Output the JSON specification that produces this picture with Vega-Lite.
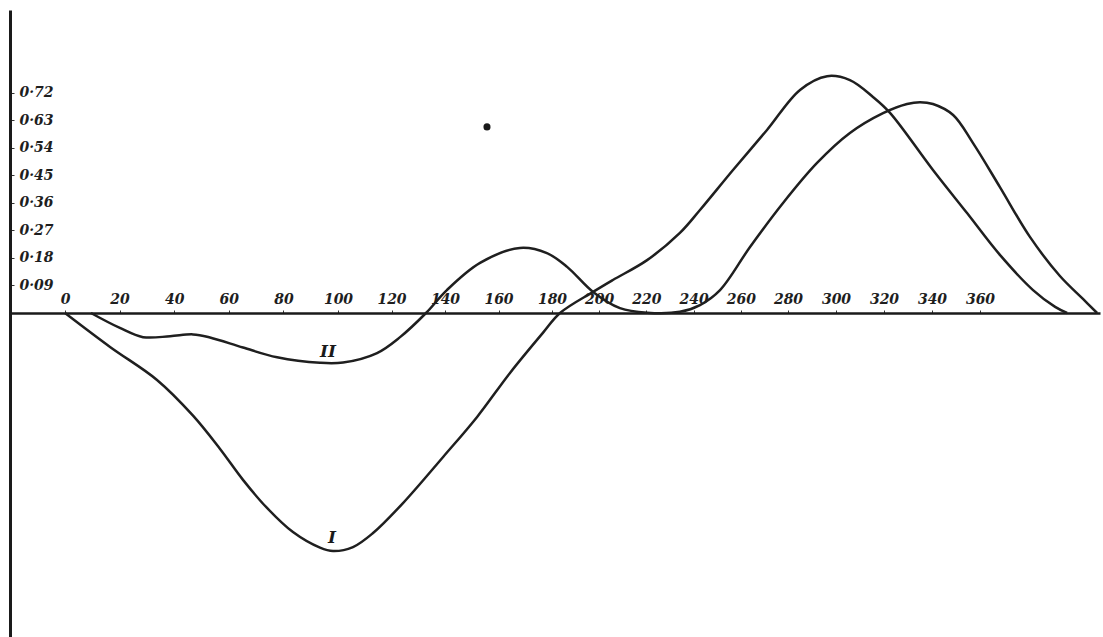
{
  "$schema": "https://vega.github.io/schema/vega-lite/v6.json",
  "width": 1090,
  "height": 627,
  "autosize": {"type": "none"},
  "padding": {"left": 10, "top": 10, "right": 3, "bottom": 0},
  "background": "white",
  "config": {
    "view": {"stroke": null},
    "axis": {
      "grid": false,
      "title": null,
      "labelFont": "DejaVu Serif",
      "labelFontStyle": "italic",
      "labelFontWeight": "bold",
      "labelColor": "#1e1e1e",
      "domainColor": "#1a1a1a",
      "tickColor": "#333333",
      "labelOverlap": false,
      "labelFlush": false,
      "labelBound": false
    }
  },
  "datasets": {
    "curves": [
      {"curve": "I", "deg": 0, "value": 0},
      {"curve": "I", "deg": 16.5, "value": -0.111},
      {"curve": "I", "deg": 33.7, "value": -0.219},
      {"curve": "I", "deg": 46.9, "value": -0.336},
      {"curve": "I", "deg": 56.8, "value": -0.445},
      {"curve": "I", "deg": 65.2, "value": -0.546},
      {"curve": "I", "deg": 74.0, "value": -0.638},
      {"curve": "I", "deg": 83.5, "value": -0.717},
      {"curve": "I", "deg": 93.4, "value": -0.768},
      {"curve": "I", "deg": 98.2, "value": -0.779},
      {"curve": "I", "deg": 105.6, "value": -0.766},
      {"curve": "I", "deg": 113.1, "value": -0.72},
      {"curve": "I", "deg": 124.3, "value": -0.622},
      {"curve": "I", "deg": 139.3, "value": -0.471},
      {"curve": "I", "deg": 152.0, "value": -0.34},
      {"curve": "I", "deg": 164.3, "value": -0.196},
      {"curve": "I", "deg": 176.6, "value": -0.065},
      {"curve": "I", "deg": 183.4, "value": 0},
      {"curve": "I", "deg": 197.4, "value": 0.069},
      {"curve": "I", "deg": 205.8, "value": 0.108},
      {"curve": "I", "deg": 220.3, "value": 0.173},
      {"curve": "I", "deg": 234.2, "value": 0.262},
      {"curve": "I", "deg": 242.7, "value": 0.337},
      {"curve": "I", "deg": 256.7, "value": 0.468},
      {"curve": "I", "deg": 271.1, "value": 0.599},
      {"curve": "I", "deg": 285.0, "value": 0.73},
      {"curve": "I", "deg": 296.3, "value": 0.775},
      {"curve": "I", "deg": 305.8, "value": 0.762},
      {"curve": "I", "deg": 315.4, "value": 0.707},
      {"curve": "I", "deg": 322.5, "value": 0.655},
      {"curve": "I", "deg": 340.4, "value": 0.468},
      {"curve": "I", "deg": 354.6, "value": 0.327},
      {"curve": "I", "deg": 368.3, "value": 0.19},
      {"curve": "I", "deg": 382.1, "value": 0.075},
      {"curve": "I", "deg": 391.3, "value": 0.02},
      {"curve": "I", "deg": 396.3, "value": 0},
      {"curve": "II", "deg": 9.5, "value": 0},
      {"curve": "II", "deg": 20.1, "value": -0.049},
      {"curve": "II", "deg": 28.6, "value": -0.079},
      {"curve": "II", "deg": 38.5, "value": -0.076},
      {"curve": "II", "deg": 46.9, "value": -0.07},
      {"curve": "II", "deg": 53.1, "value": -0.08},
      {"curve": "II", "deg": 65.2, "value": -0.113},
      {"curve": "II", "deg": 77.7, "value": -0.145},
      {"curve": "II", "deg": 93.4, "value": -0.163},
      {"curve": "II", "deg": 101.9, "value": -0.162},
      {"curve": "II", "deg": 114.6, "value": -0.131},
      {"curve": "II", "deg": 123.2, "value": -0.079},
      {"curve": "II", "deg": 132.9, "value": 0},
      {"curve": "II", "deg": 140.7, "value": 0.075},
      {"curve": "II", "deg": 153.1, "value": 0.164},
      {"curve": "II", "deg": 168.0, "value": 0.213},
      {"curve": "II", "deg": 178.1, "value": 0.196},
      {"curve": "II", "deg": 186.4, "value": 0.151},
      {"curve": "II", "deg": 197.4, "value": 0.069},
      {"curve": "II", "deg": 208.8, "value": 0.016},
      {"curve": "II", "deg": 220.3, "value": 0.001},
      {"curve": "II", "deg": 234.2, "value": 0.004},
      {"curve": "II", "deg": 242.7, "value": 0.026},
      {"curve": "II", "deg": 251.2, "value": 0.075},
      {"curve": "II", "deg": 263.9, "value": 0.216},
      {"curve": "II", "deg": 277.9, "value": 0.36},
      {"curve": "II", "deg": 292.1, "value": 0.491},
      {"curve": "II", "deg": 305.8, "value": 0.589},
      {"curve": "II", "deg": 319.6, "value": 0.654},
      {"curve": "II", "deg": 329.6, "value": 0.684},
      {"curve": "II", "deg": 335.0, "value": 0.69},
      {"curve": "II", "deg": 340.4, "value": 0.684},
      {"curve": "II", "deg": 348.8, "value": 0.648},
      {"curve": "II", "deg": 357.1, "value": 0.556},
      {"curve": "II", "deg": 368.3, "value": 0.412},
      {"curve": "II", "deg": 380.8, "value": 0.249},
      {"curve": "II", "deg": 393.3, "value": 0.121},
      {"curve": "II", "deg": 402.9, "value": 0.046},
      {"curve": "II", "deg": 408.8, "value": 0}
    ],
    "curveNames": [
      {"name": "I", "deg": 97.8, "value": -0.736},
      {"name": "II", "deg": 96.3, "value": -0.128}
    ],
    "marks": [
      {"deg": 155.7, "value": 0.609}
    ]
  },
  "encoding": {
    "x": {
      "field": "deg",
      "type": "quantitative",
      "scale": {
        "domain": [-20.15, 0, 100, 180, 280, 360, 410],
        "range": [0, 55, 328, 542, 778, 970, 1090]
      },
      "axis": {
        "orient": "top",
        "offset": -303,
        "values": [0, 20, 40, 60, 80, 100, 120, 140, 160, 180, 200, 220, 240, 260, 280, 300, 320, 340, 360],
        "tickSize": 3,
        "labelPadding": 4,
        "labelFontSize": 14,
        "labelAngle": 0,
        "domainWidth": 2.5
      }
    },
    "y": {
      "field": "value",
      "type": "quantitative",
      "scale": {"domain": [-1.0602, 0.9915], "nice": false, "zero": false},
      "axis": {
        "orient": "left",
        "values": [0.09, 0.18, 0.27, 0.36, 0.45, 0.54, 0.63, 0.72],
        "labelExpr": "replace(format(datum.value, '.2f'), '.', '·')",
        "labelAlign": "left",
        "labelBaseline": "middle",
        "tickSize": -4,
        "labelPadding": -5,
        "labelFontSize": 14,
        "domainWidth": 3
      }
    }
  },
  "layer": [
    {
      "data": {"name": "curves"},
      "mark": {"type": "line", "interpolate": "catmull-rom", "stroke": "#1f1f1f", "strokeWidth": 2.5},
      "encoding": {"detail": {"field": "curve"}}
    },
    {
      "data": {"name": "curveNames"},
      "mark": {"type": "text", "font": "DejaVu Serif", "fontStyle": "italic", "fontWeight": "bold", "fontSize": 17, "color": "#1a1a1a", "baseline": "middle", "align": "center"},
      "encoding": {"text": {"field": "name"}}
    },
    {
      "data": {"name": "marks"},
      "mark": {"type": "point", "filled": true, "size": 50, "color": "#1a1a1a", "opacity": 1}
    }
  ]
}
